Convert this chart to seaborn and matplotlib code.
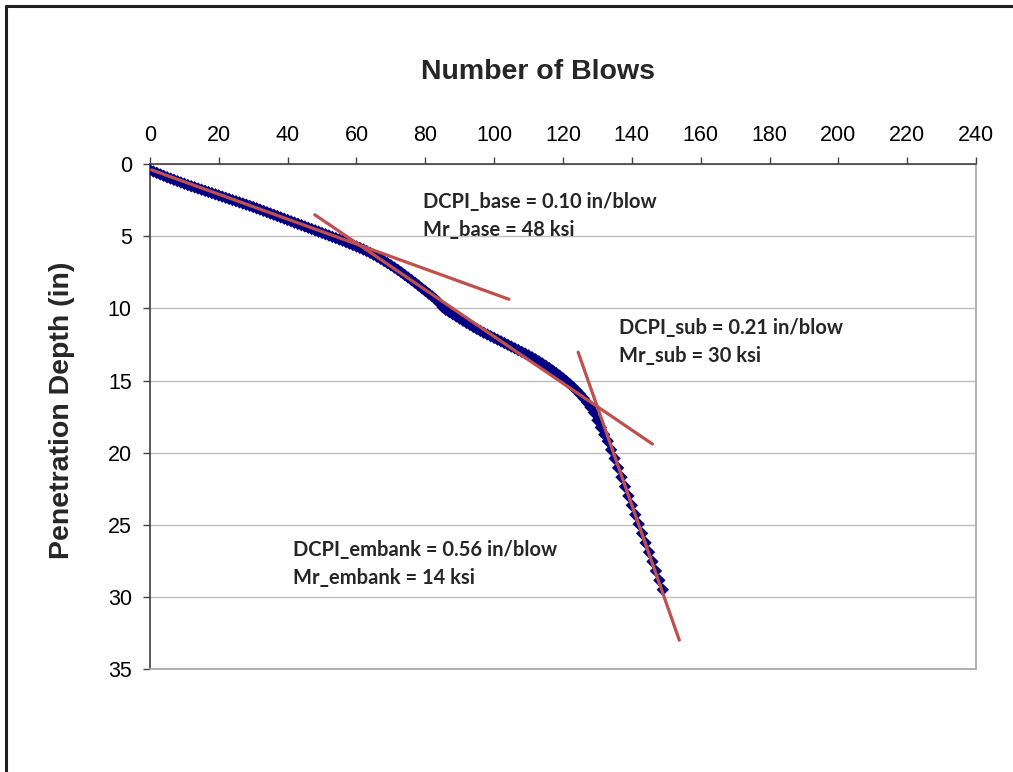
import matplotlib
matplotlib.use("Agg")
import matplotlib.pyplot as plt
from matplotlib.lines import Line2D
import seaborn as sns
import pandas as pd

# ---- data ----
blows = list(range(0, 150))
depth = [
    0.40, 0.50, 0.60, 0.70, 0.80, 0.90, 0.99, 1.08, 1.17, 1.26,
    1.35, 1.44, 1.52, 1.60, 1.68, 1.76, 1.84, 1.92, 2.00, 2.08,
    2.16, 2.24, 2.32, 2.40, 2.48, 2.56, 2.64, 2.72, 2.80, 2.88,
    2.96, 3.05, 3.14, 3.23, 3.32, 3.41, 3.50, 3.59, 3.68, 3.77,
    3.86, 3.95, 4.04, 4.13, 4.22, 4.31, 4.40, 4.49, 4.58, 4.67,
    4.76, 4.85, 4.94, 5.03, 5.12, 5.21, 5.30, 5.40, 5.50, 5.60,
    5.70, 5.80, 5.91, 6.02, 6.14, 6.27, 6.41, 6.55, 6.70, 6.85,
    7.00, 7.16, 7.32, 7.49, 7.67, 7.85, 8.03, 8.21, 8.40, 8.59,
    8.78, 8.97, 9.16, 9.36, 9.60, 9.90, 10.10, 10.25, 10.40, 10.55,
    10.70, 10.85, 11.00, 11.14, 11.28, 11.42, 11.55, 11.68, 11.80, 11.92,
    12.04, 12.16, 12.28, 12.40, 12.52, 12.64, 12.76, 12.88, 13.00, 13.12,
    13.25, 13.38, 13.52, 13.66, 13.81, 13.97, 14.13, 14.30, 14.47, 14.65,
    14.84, 15.04, 15.25, 15.47, 15.70, 15.95, 16.22, 16.52, 16.85, 17.22,
    17.75, 18.25, 18.75, 19.20, 19.80, 20.40, 21.05, 21.70, 22.35, 23.00,
    23.65, 24.30, 24.95, 25.60, 26.25, 26.90, 27.55, 28.20, 28.85, 29.50,
]

base_x = [0.5, 104.3]
base_y = [0.39, 9.36]
sub_x = [47.9, 146.0]
sub_y = [3.50, 19.4]
emb_x = [124.4, 153.8]
emb_y = [13.03, 33.0]

x_ticks = [0, 20, 40, 60, 80, 100, 120, 140, 160, 180, 200, 220, 240]
y_ticks = [0, 5, 10, 15, 20, 25, 30, 35]

labels = {
    "base": "DCPI_base = 0.10 in/blow\nMr_base = 48 ksi",
    "sub": "DCPI_sub = 0.21 in/blow\nMr_sub = 30 ksi",
    "embank": "DCPI_embank = 0.56 in/blow\nMr_embank = 14 ksi",
}
label_pos = {"base": (79.3, 3.62), "sub": (136.3, 12.3), "embank": (41.5, 27.7)}

# ---- plot ----
sns.set_style("white")
plt.rcParams["font.family"] = ["Liberation Sans", "DejaVu Sans"]

fig = plt.figure(figsize=(10.13, 7.72), dpi=100)
ax = fig.add_axes([0.148, 0.1334, 0.8155, 0.6538])

df = pd.DataFrame({"blows": blows, "depth": depth})
sns.scatterplot(data=df, x="blows", y="depth", ax=ax, marker="D", s=40,
                color="#000080", edgecolor="none", zorder=3)

red = "#C0504D"
for xs, ys in [(base_x, base_y), (sub_x, sub_y), (emb_x, emb_y)]:
    sns.lineplot(x=xs, y=ys, ax=ax, color=red, linewidth=2.3, zorder=4,
                 sort=False, estimator=None)

ax.set_xlim(0, 240)
ax.set_ylim(35, 0)
ax.set_xticks(x_ticks)
ax.set_yticks(y_ticks)
ax.xaxis.tick_top()
ax.grid(axis="y", color="#BEBEBE", linewidth=1.0)
ax.grid(axis="x", visible=False)
ax.set_axisbelow(True)
ax.tick_params(axis="both", direction="out", length=5, width=1.0,
               color="#404040", labelsize=15.5, labelcolor="#000000")
ax.tick_params(axis="x", pad=8, top=True, bottom=False)
ax.tick_params(axis="y", pad=8, left=True)
ax.set_xlabel("")
ax.set_ylabel("")

for side in ["left", "top"]:
    ax.spines[side].set_color("#404040")
    ax.spines[side].set_linewidth(1.2)
for side in ["right", "bottom"]:
    ax.spines[side].set_color("#A6A6A6")
    ax.spines[side].set_linewidth(1.2)
    ax.spines[side].set_visible(True)

fig.text(538 / 1013, 1 - 72 / 772, "Number of Blows", ha="center", va="center",
         fontsize=20.5, fontweight="bold")
fig.text(62 / 1013, 1 - 410 / 772, "Penetration Depth (in)", ha="center",
         va="center", rotation=90, fontsize=20.5, fontweight="bold")

for k, txt in labels.items():
    x0, y0 = label_pos[k]
    ax.text(x0, y0, txt, ha="left", va="center", fontsize=14.5,
            fontweight="bold", family=["Lato", "DejaVu Sans"],
            linespacing=1.5, zorder=5)

# outer chart frame (left and top edges visible)
fig.add_artist(Line2D([6 / 1013, 6 / 1013], [0, 1 - 6 / 772],
                      transform=fig.transFigure, color="#202020", linewidth=2.2))
fig.add_artist(Line2D([6 / 1013, 1], [1 - 6 / 772, 1 - 6 / 772],
                      transform=fig.transFigure, color="#202020", linewidth=2.2))

fig.savefig("out.png", dpi=100, facecolor="white")
